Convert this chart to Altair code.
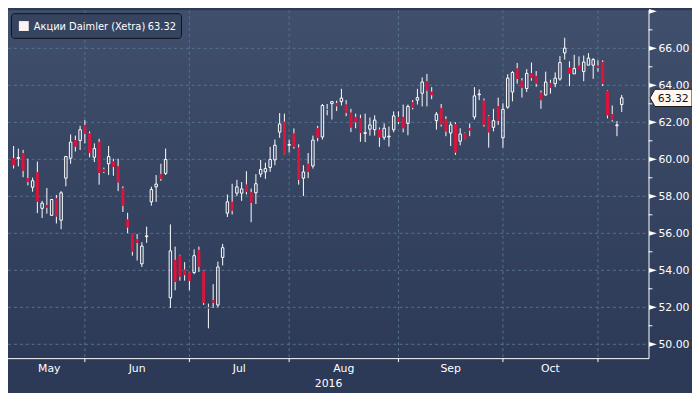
import altair as alt
import pandas as pd

# ---- data (Daimler, Xetra, daily candles) ----
opens = [60.06, 60.05, 60.34, 58.98, 58.49, 59.29, 57.35, 57.53, 56.97, 57.89,
         56.71, 58.98, 60.06, 61.04, 61.02, 61.86, 61.39, 60.11, 60.93, 59.47,
         59.76, 59.88, 59.62, 58.42, 56.74, 56.01, 55.69, 54.35, 55.82, 57.70,
         58.51, 59.19, 59.24, 52.51, 54.56, 54.79, 54.03, 53.88, 53.88, 55.10,
         53.97, 51.99, 52.39, 52.12, 54.70, 57.09, 57.70, 58.17, 58.17, 58.63,
         58.22, 58.19, 59.20, 59.32, 59.56, 59.97, 61.47, 62.03, 60.76, 61.39,
         60.63, 58.98, 59.76, 59.64, 61.68, 61.21, 62.72, 63.01, 63.03, 63.12,
         62.96, 62.52, 62.29, 62.21, 61.40, 61.63, 61.60, 61.60, 61.19, 61.21,
         61.60, 62.29, 62.29, 61.94, 63.08, 63.20, 63.57, 64.22, 63.65, 62.09,
         62.77, 62.17, 61.42, 61.89, 60.98, 61.42, 61.68, 62.29, 63.49, 63.17,
         62.33, 61.73, 62.87, 61.16, 62.82, 63.64, 64.91, 64.25, 63.83, 64.65,
         64.51, 63.60, 63.48, 64.13, 64.09, 64.34, 65.75, 64.95, 64.62, 65.06,
         64.74, 65.09, 65.09, 65.06, 65.26, 63.69, 62.44, 61.82, 62.96]
highs = [60.72, 60.58, 60.51, 60.03, 59.01, 59.88, 57.75, 58.45, 57.85, 58.07,
         58.28, 60.18, 61.34, 61.28, 61.81, 62.12, 61.51, 60.86, 61.11, 59.55,
         60.72, 60.03, 60.03, 58.54, 57.11, 56.01, 55.96, 55.52, 56.36, 58.52,
         59.15, 59.76, 60.58, 56.48, 55.28, 54.84, 54.44, 53.90, 55.13, 55.28,
         54.00, 52.20, 53.25, 54.47, 55.43, 58.10, 58.68, 58.89, 58.77, 59.36,
         58.42, 59.20, 59.97, 59.82, 60.67, 61.07, 62.50, 62.47, 61.07, 61.67,
         60.81, 59.68, 60.34, 61.28, 61.81, 62.99, 62.99, 63.12, 63.17, 63.81,
         63.20, 62.73, 62.47, 62.41, 62.47, 62.26, 62.38, 61.72, 61.94, 61.77,
         62.59, 62.59, 62.96, 62.96, 63.20, 63.81, 64.43, 64.62, 63.90, 62.56,
         62.99, 62.33, 62.03, 62.00, 61.68, 61.45, 61.94, 63.90, 63.78, 63.29,
         62.38, 62.73, 63.34, 63.03, 64.60, 64.77, 65.21, 64.39, 64.88, 65.23,
         64.77, 63.72, 64.74, 64.30, 64.70, 65.58, 66.57, 65.30, 65.65, 65.56,
         65.61, 65.74, 65.47, 65.35, 65.35, 63.72, 62.91, 62.07, 63.48]
lows = [59.50, 59.62, 59.03, 58.59, 58.25, 57.09, 56.83, 57.06, 56.95, 56.53,
        56.22, 58.54, 59.76, 60.42, 60.50, 60.86, 60.11, 59.85, 58.63, 59.25,
        59.15, 59.11, 58.28, 57.15, 56.01, 54.79, 54.53, 54.18, 55.48, 57.49,
        57.70, 58.84, 59.15, 51.96, 52.92, 53.44, 53.44, 52.92, 53.79, 53.91,
        52.13, 50.86, 51.96, 51.99, 54.26, 56.88, 57.02, 58.01, 57.75, 58.10,
        56.60, 57.58, 59.03, 58.94, 59.32, 59.68, 61.16, 60.25, 60.37, 60.58,
        58.63, 58.01, 58.98, 59.50, 60.97, 61.07, 62.38, 62.15, 62.61, 62.91,
        62.33, 61.47, 61.68, 60.95, 60.93, 61.28, 61.28, 60.67, 61.04, 60.69,
        61.46, 61.91, 61.46, 61.30, 62.70, 62.96, 62.86, 62.86, 63.25, 61.60,
        61.77, 61.25, 60.72, 60.24, 60.76, 61.09, 61.25, 62.15, 63.20, 61.77,
        60.63, 61.51, 61.86, 60.63, 62.73, 63.13, 64.09, 63.34, 63.64, 64.25,
        63.92, 62.73, 63.43, 63.55, 63.90, 64.25, 65.39, 63.96, 64.62, 64.88,
        64.22, 65.09, 64.35, 64.74, 63.96, 62.21, 62.03, 61.25, 62.56]
closes = [59.68, 60.10, 59.38, 58.77, 58.84, 57.70, 57.63, 57.39, 57.83, 56.91,
          58.19, 60.15, 60.93, 60.69, 61.60, 61.39, 60.34, 60.58, 59.27, 59.32,
          60.15, 59.59, 58.75, 57.49, 56.32, 55.01, 55.48, 55.31, 55.86, 58.37,
          58.66, 58.94, 59.99, 55.05, 53.37, 53.65, 53.74, 53.44, 54.79, 54.18,
          52.25, 51.94, 52.25, 54.18, 55.22, 57.70, 57.23, 58.51, 58.40, 58.25,
          57.65, 58.68, 59.45, 59.50, 59.99, 60.76, 61.91, 60.27, 60.80, 60.69,
          58.89, 59.32, 59.32, 61.04, 61.16, 62.91, 62.68, 63.12, 62.87, 63.31,
          62.52, 61.72, 62.00, 61.42, 61.44, 61.86, 62.12, 61.19, 61.68, 61.25,
          62.35, 62.03, 61.68, 62.86, 62.78, 63.34, 64.18, 63.72, 63.47, 62.44,
          61.89, 61.51, 61.86, 60.37, 61.37, 61.11, 61.56, 63.43, 63.53, 61.86,
          61.46, 62.09, 62.09, 62.70, 64.39, 64.69, 64.35, 63.87, 64.65, 64.39,
          64.09, 63.20, 64.18, 63.87, 64.39, 65.23, 66.01, 64.62, 64.91, 64.88,
          65.26, 65.47, 65.39, 64.95, 64.08, 62.38, 62.12, 61.86, 63.32]

month_starts = [15, 37, 58, 81, 103, 123]          # candle index of each month's first session
month_labels = ["May", "Jun", "Jul", "Aug", "Sep", "Oct"]
month_label_pos = [7.5, 26, 47.5, 69.5, 92, 113]
year_label = ["2016"]
year_pos = [66.3]
y_major = [50, 52, 54, 56, 58, 60, 62, 64, 66]
y_minor = [51, 53, 55, 57, 59, 61, 63, 65, 67]
y_marks = [50, 52, 54, 56, 58, 60, 62, 64, 66, 68]
last_price = [63.32]
legend_name = ["Акции Daimler (Xetra)"]

# ---- layout ----
W, H = 648, 352
RIGHT, BOTTOM = 44, 33
FONT = "DejaVu Sans"
GRID = "#56728f"
RED = "#dc143c"

df = pd.DataFrame({"i": list(range(len(opens))), "open": opens, "high": highs,
                   "low": lows, "close": closes})
df["top"] = df[["open", "close"]].max(axis=1)
df["bot"] = df[["open", "close"]].min(axis=1)
up = df[df["close"] >= df["open"]]
down = df[df["close"] < df["open"]]

xs = alt.Scale(domain=[-0.14, 132.6], nice=False, zero=False)
ys = alt.Scale(domain=[49.25, 68.06], nice=False, zero=False)

one = pd.DataFrame({"a": [0]})

bg = alt.Chart(one).mark_rect(
    fill={"gradient": "linear", "x1": 0, "y1": 0, "x2": 0, "y2": 1,
          "stops": [{"offset": 0, "color": "#404f6c"},
                    {"offset": 1, "color": "#2c3a58"}]}
).encode(x=alt.value(0), x2=alt.value(W + RIGHT), y=alt.value(0), y2=alt.value(H))

hgrid = alt.Chart(pd.DataFrame({"v": y_major})).mark_rule(
    color=GRID, strokeDash=[3, 3], strokeWidth=1
).encode(y=alt.Y("v:Q", scale=ys, axis=None), x=alt.value(0), x2=alt.value(W))

vgrid = alt.Chart(pd.DataFrame({"m": month_starts})).mark_rule(
    color=GRID, strokeDash=[3, 3], strokeWidth=1
).encode(x=alt.X("m:Q", scale=xs, axis=None), y=alt.value(0), y2=alt.value(H))

wick_hi = alt.Chart(df).mark_rule(color="white", strokeWidth=1).encode(
    x=alt.X("i:Q", scale=xs, axis=None),
    y=alt.Y("high:Q", scale=ys, axis=None), y2="top:Q")
wick_lo = alt.Chart(df).mark_rule(color="white", strokeWidth=1).encode(
    x=alt.X("i:Q", scale=xs, axis=None),
    y=alt.Y("bot:Q", scale=ys, axis=None), y2="low:Q")

body_down = alt.Chart(down).mark_bar(size=3, color=RED).encode(
    x=alt.X("i:Q", scale=xs, axis=None),
    y=alt.Y("top:Q", scale=ys, axis=None), y2="bot:Q")
body_up = alt.Chart(up).mark_bar(size=2.5, fill="transparent", stroke="white",
                                 strokeWidth=1).encode(
    x=alt.X("i:Q", scale=xs, axis=None),
    y=alt.Y("top:Q", scale=ys, axis=None), y2="bot:Q")

# ---- axes (drawn as marks) ----
x_domain = alt.Chart(one).mark_rule(color="white", strokeWidth=1).encode(
    x=alt.value(0), x2=alt.value(W + 0.5), y=alt.value(H + 0.5))
y_domain = alt.Chart(one).mark_rule(color="white", strokeWidth=1).encode(
    x=alt.value(W + 0.5), y=alt.value(0), y2=alt.value(H + 0.5))
x_ticks = alt.Chart(pd.DataFrame({"m": month_starts})).mark_rule(
    color="white", strokeWidth=1
).encode(x=alt.X("m:Q", scale=xs, axis=None), y=alt.value(H), y2=alt.value(H + 4))
minor = alt.Chart(pd.DataFrame({"v": y_minor})).mark_rule(color="white").encode(
    y=alt.Y("v:Q", scale=ys, axis=None), x=alt.value(W), x2=alt.value(W + 4))
tri = alt.Chart(pd.DataFrame({"v": y_marks})).mark_point(
    shape="M-1,-0.6L1,0L-1,0.6Z", size=64, filled=True, color="white", opacity=1
).encode(y=alt.Y("v:Q", scale=ys, axis=None), x=alt.value(W + 4.5))
y_labels = alt.Chart(pd.DataFrame({"v": y_major})).mark_text(
    font=FONT, fontSize=11, color="white", align="left", baseline="middle", dy=1
).encode(y=alt.Y("v:Q", scale=ys, axis=None), x=alt.value(W + 10),
         text=alt.Text("v:Q", format=".2f"))

mlabels = alt.Chart(pd.DataFrame({"p": month_label_pos, "t": month_labels})).mark_text(
    font=FONT, fontSize=11, color="white", baseline="middle", align="center"
).encode(x=alt.X("p:Q", scale=xs, axis=None), y=alt.value(H + 11), text="t:N")

ylabel = alt.Chart(pd.DataFrame({"p": year_pos, "t": year_label})).mark_text(
    font=FONT, fontSize=11, color="white", baseline="middle", align="center"
).encode(x=alt.X("p:Q", scale=xs, axis=None), y=alt.value(H + 26), text="t:N")

# ---- legend ----
leg_box = alt.Chart(one).mark_rect(
    fill="#36445f", stroke="#0e121a", strokeWidth=1, cornerRadius=3
).encode(x=alt.value(3.5), x2=alt.value(175.5), y=alt.value(3.5), y2=alt.value(28.5))
leg_sq = alt.Chart(one).mark_rect(fill="#fff2f2").encode(
    x=alt.value(11), x2=alt.value(21), y=alt.value(11), y2=alt.value(21))
leg_txt = alt.Chart(pd.DataFrame({"t": legend_name})).mark_text(
    font=FONT, fontSize=10, color="white", align="left", baseline="middle"
).encode(x=alt.value(26), y=alt.value(16.5), text="t:N")
leg_val = alt.Chart(pd.DataFrame({"p": last_price})).mark_text(
    font=FONT, fontSize=10, color="white", align="right", baseline="middle"
).encode(x=alt.value(170), y=alt.value(16.5), text=alt.Text("p:Q", format=".2f"))

# ---- last price tag ----
tag = alt.Chart(pd.DataFrame({"p": last_price})).mark_point(
    shape="M-1,0L-0.765,-0.41L1,-0.41L1,0.41L-0.765,0.41Z", size=1806,
    filled=True, fill="#fff6f0", stroke="#1a1a1a", strokeWidth=1, opacity=1
).encode(y=alt.Y("p:Q", scale=ys, axis=None), x=alt.value(W + 22.75))
tag_txt = alt.Chart(pd.DataFrame({"p": last_price})).mark_text(
    font=FONT, fontSize=11, color="#111111", align="center", baseline="middle", dy=1
).encode(y=alt.Y("p:Q", scale=ys, axis=None), x=alt.value(W + 25),
         text=alt.Text("p:Q", format=".2f"))

chart = alt.layer(
    bg, hgrid, vgrid, wick_hi, wick_lo, body_down, body_up,
    x_domain, y_domain, x_ticks, minor, tri, y_labels, mlabels, ylabel,
    leg_box, leg_sq, leg_txt, leg_val, tag, tag_txt
).properties(
    width=W, height=H,
    autosize=alt.AutoSizeParams(type="none"),
    padding={"left": 0, "top": 0, "right": RIGHT, "bottom": BOTTOM},
    background="#2c3a58"
).configure_view(strokeWidth=0)

chart.save("out.html", embed_options={"renderer": "svg", "actions": False})
